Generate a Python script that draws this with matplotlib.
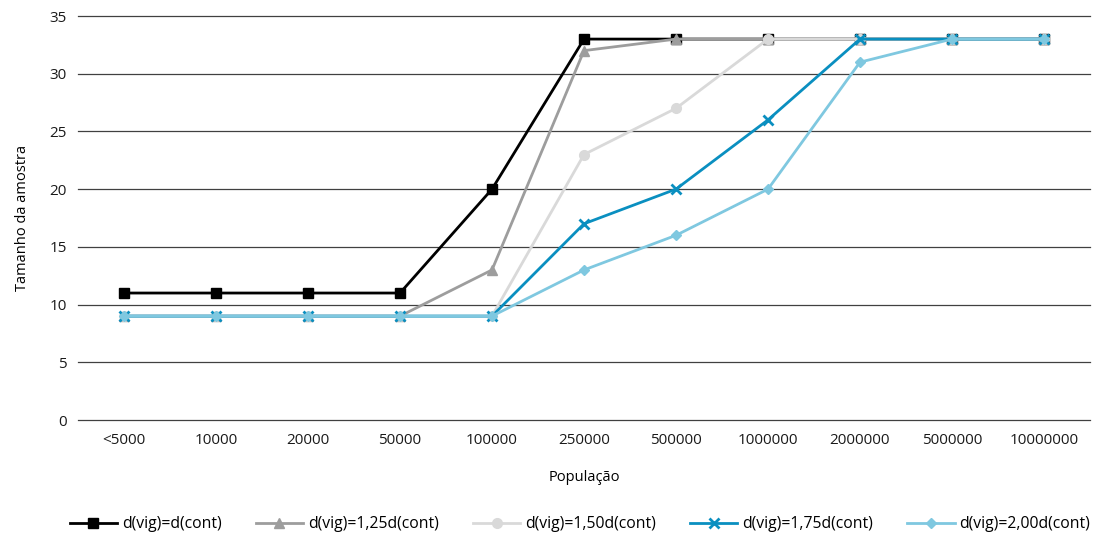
import matplotlib
matplotlib.use("Agg")
import matplotlib.pyplot as plt
from matplotlib import font_manager

# categories and sample sizes for each ratio of d(vig) to d(cont)
populacao = ["<5000", "10000", "20000", "50000", "100000", "250000",
             "500000", "1000000", "2000000", "5000000", "10000000"]
d_100 = [11, 11, 11, 11, 20, 33, 33, 33, 33, 33, 33]
d_125 = [9, 9, 9, 9, 13, 32, 33, 33, 33, 33, 33]
d_150 = [9, 9, 9, 9, 9, 23, 27, 33, 33, 33, 33]
d_175 = [9, 9, 9, 9, 9, 17, 20, 26, 33, 33, 33]
d_200 = [9, 9, 9, 9, 9, 13, 16, 20, 31, 33, 33]

series = [
    ("d(vig)=d(cont)", d_100, "#000000", "s", 7),
    ("d(vig)=1,25d(cont)", d_125, "#9d9d9d", "^", 7),
    ("d(vig)=1,50d(cont)", d_150, "#d9d9d9", "o", 7),
    ("d(vig)=1,75d(cont)", d_175, "#0a8fc0", "x", 7),
    ("d(vig)=2,00d(cont)", d_200, "#7fc8e0", "D", 5),
]

names = {f.name for f in font_manager.fontManager.ttflist}
family = "Liberation Sans Narrow" if "Liberation Sans Narrow" in names else "Open Sans"
plt.rcParams["font.family"] = family
plt.rcParams["font.size"] = 11

fig = plt.figure(figsize=(10.98, 5.37), dpi=100)
ax = fig.add_axes([78 / 1098, 1 - 420 / 537, (1090 - 78) / 1098, (420 - 16) / 537])

x = list(range(len(populacao)))
for label, vals, color, marker, ms in series:
    ax.plot(x, vals, color=color, lw=2, marker=marker, ms=ms,
            mew=2 if marker == "x" else 1, label=label)

ax.set_xlim(-0.5, len(populacao) - 0.5)
ax.set_ylim(0, 35)
ax.set_yticks(range(0, 36, 5))
ax.set_xticks(x)
ax.set_xticklabels(populacao)
ax.grid(axis="y", color="#404040", lw=0.9)
for gl in ax.get_ygridlines():
    gl.set_clip_on(False)
ax.set_axisbelow(True)
for s in ax.spines.values():
    s.set_visible(False)
ax.tick_params(axis="both", length=0, labelsize=11, colors="#1a1a1a")
ax.tick_params(axis="x", pad=9)
ax.tick_params(axis="y", pad=8)

ax.set_xlabel("População", fontsize=10.5, labelpad=16)
ax.set_ylabel("Tamanho da amostra", fontsize=10.5, labelpad=14)

handles, labels = ax.get_legend_handles_labels()
fig.legend(handles, labels, loc="center", bbox_to_anchor=(580 / 1098, 1 - 524 / 537),
           ncol=5, frameon=False, fontsize=11.3, handlelength=3.0,
           handletextpad=0.3, columnspacing=2.2, borderaxespad=0)

fig.savefig("out.png", dpi=100)
